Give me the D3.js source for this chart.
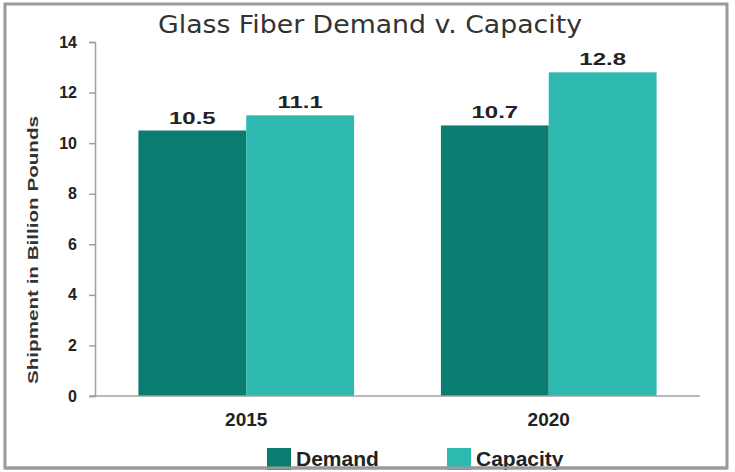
<!DOCTYPE html>
<html>
<head>
<meta charset="utf-8">
<script src="https://cdn.jsdelivr.net/npm/d3@7"></script>
<style>
  body { margin: 0; background: #fff; }
  svg { display: block; }
</style>
</head>
<body>
<svg id="chart" width="735" height="472"></svg>
<script>
// chart data
var years = ["2015", "2020"];
var seriesNames = ["Demand", "Capacity"];
var demand = [10.5, 10.7];
var capacity = [11.1, 12.8];
var yTicks = [0, 2, 4, 6, 8, 10, 12, 14];
var colors = ["#0b7d70", "#2db9b0"];

var svg = d3.select("#chart");
var padding = {left: 95, right: 35, top: 42, bottom: 76};
var W = 735, H = 472;

// outer frame
svg.append("rect")
    .attr("x", 5).attr("y", 4)
    .attr("width", 722).attr("height", 464)
    .attr("fill", "none")
    .attr("stroke", "#9a9a9a")
    .attr("stroke-width", 3);

var x = d3.scaleBand()
    .domain(years)
    .range([padding.left, W - padding.right])
    .paddingInner(0.287)
    .paddingOuter(0.1435);

var xs = d3.scaleBand()
    .domain(seriesNames)
    .range([0, x.bandwidth()]);

var y = d3.scaleLinear()
    .domain([0, 14])
    .range([H - padding.bottom, padding.top]);

var rows = years.map(function(yr, i){
    return {year: yr, values: [demand[i], capacity[i]]};
});

// bars
var g = svg.selectAll(".grp")
    .data(rows)
    .enter().append("g")
    .attr("class", "grp")
    .attr("transform", function(d){ return "translate(" + x(d.year) + ",0)"; });

g.selectAll("rect")
    .data(function(d){ return d.values.map(function(v, j){ return {name: seriesNames[j], v: v, j: j}; }); })
    .enter().append("rect")
    .attr("x", function(d){ return xs(d.name); })
    .attr("y", function(d){ return y(d.v); })
    .attr("width", xs.bandwidth())
    .attr("height", function(d){ return y(0) - y(d.v); })
    .attr("fill", function(d){ return colors[d.j]; });

// value labels, drawn wide like the original
g.selectAll(".val")
    .data(function(d){ return d.values.map(function(v, j){ return {name: seriesNames[j], v: v}; }); })
    .enter().append("text")
    .attr("class", "val")
    .attr("transform", function(d){
        return "translate(" + (xs(d.name) + xs.bandwidth() / 2) + "," + (y(d.v) - 7) + ") scale(1.5,1)";
    })
    .attr("text-anchor", "middle")
    .style("font-family", "Liberation Sans, Arial, sans-serif")
    .style("font-weight", "bold")
    .style("font-size", "16px")
    .attr("fill", "#222")
    .text(function(d){ return d.v.toFixed(1); });

// Y-axis
var yAxis = d3.axisLeft(y).tickValues(yTicks).tickSize(6).tickPadding(12);
var ya = svg.append("g")
    .attr("transform", "translate(" + padding.left + ",0)")
    .call(yAxis);
ya.select(".domain").attr("stroke", "#a0a0a0").attr("stroke-width", 1.5);
ya.selectAll(".tick line").attr("stroke", "#a0a0a0").attr("stroke-width", 1.5);
ya.selectAll(".tick text")
    .style("font-family", "Liberation Sans, Arial, sans-serif")
    .style("font-weight", "bold")
    .style("font-size", "16px")
    .attr("fill", "#222");

// X-axis
var xAxis = d3.axisBottom(x).tickSize(0).tickPadding(17);
var xa = svg.append("g")
    .attr("transform", "translate(0," + y(0) + ")")
    .call(xAxis);
xa.select(".domain").attr("stroke", "#a0a0a0").attr("stroke-width", 1.5)
    .attr("d", "M" + (padding.left - 5) + ",0H" + (W - padding.right));
xa.selectAll(".tick text")
    .style("font-family", "Liberation Sans, Arial, sans-serif")
    .style("font-weight", "bold")
    .style("font-size", "19px")
    .attr("fill", "#222");

// y title
svg.append("text")
    .attr("transform", "translate(38,250) rotate(-90)")
    .attr("text-anchor", "middle")
    .attr("textLength", 268)
    .attr("lengthAdjust", "spacingAndGlyphs")
    .style("font-family", "Liberation Sans, Arial, sans-serif")
    .style("font-weight", "bold")
    .style("font-size", "14px")
    .attr("fill", "#333")
    .text("Shipment in Billion Pounds");

// title
svg.append("text")
    .attr("x", 370).attr("y", 33)
    .attr("text-anchor", "middle")
    .attr("textLength", 424)
    .attr("lengthAdjust", "spacingAndGlyphs")
    .style("font-family", "DejaVu Sans, Verdana, sans-serif")
    .style("font-size", "25px")
    .attr("fill", "#333")
    .text("Glass Fiber Demand v. Capacity");

// legend
var legX = [267, 447];
var leg = svg.selectAll(".leg")
    .data(seriesNames)
    .enter().append("g")
    .attr("class", "leg")
    .attr("transform", function(d, i){ return "translate(" + legX[i] + ",448)"; });
leg.append("rect")
    .attr("width", 24).attr("height", 22)
    .attr("fill", function(d, i){ return colors[i]; });
leg.append("text")
    .attr("x", 29).attr("y", 18)
    .style("font-family", "Liberation Sans Narrow, Liberation Sans, Arial, sans-serif")
    .style("font-weight", "bold")
    .style("font-size", "21px")
    .attr("fill", "#222")
    .text(function(d){ return d; });

// redraw bottom frame edge over legend
svg.append("line")
    .attr("x1", 5).attr("x2", 727)
    .attr("y1", 468).attr("y2", 468)
    .attr("stroke", "#9a9a9a").attr("stroke-width", 3);
</script>
</body>
</html>
